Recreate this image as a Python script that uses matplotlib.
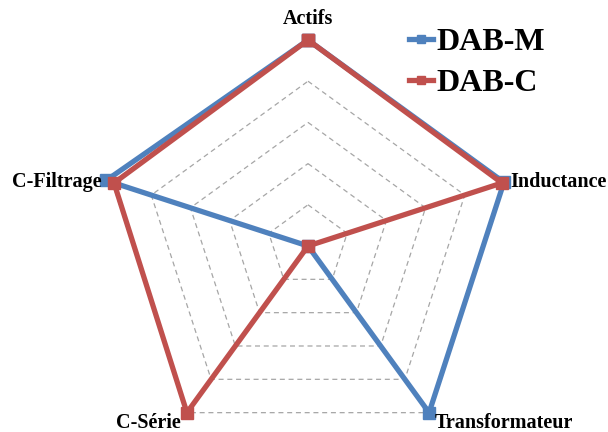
import numpy as np
import matplotlib
matplotlib.use("Agg")
import matplotlib.pyplot as plt
from matplotlib.lines import Line2D

categories = ["Actifs", "Inductance", "Transformateur", "C-Série", "C-Filtrage"]
dab_m = [1.0, 1.0, 1.0, 0.0, 1.03]
dab_c = [1.0, 0.99, 0.0, 1.0, 0.99]
levels = [0.2, 0.4, 0.6, 0.8, 1.0]

blue = "#4f81bd"
red = "#c0504d"
serif = ["Liberation Serif", "DejaVu Serif"]

W, H = 608, 432
fig = plt.figure(figsize=(W / 100, H / 100), dpi=100)
cx, cy, R = 308, 246, 206
ax = fig.add_axes([(cx - R) / W, (H - cy - R) / H, 2 * R / W, 2 * R / H], projection="polar")
ax.set_theta_offset(np.pi / 2)
ax.set_theta_direction(-1)
ax.set_ylim(0, 1.0)
ax.grid(False)
ax.spines["polar"].set_visible(False)
ax.set_xticks([])
ax.set_yticks([])
ax.patch.set_alpha(0)

n = len(categories)
theta = np.arange(n) * 2 * np.pi / n
tc = np.append(theta, theta[0])

for lv in levels:
    ax.plot(tc, [lv] * (n + 1), ls=(0, (4, 3)), color="#a6a6a6", lw=0.9, clip_on=False)

for vals, col in [(dab_m, blue), (dab_c, red)]:
    v = np.append(vals, vals[0])
    ax.plot(tc, v, color=col, lw=3.8, marker="s", markersize=8.5,
            markerfacecolor=col, markeredgecolor=col, clip_on=False, zorder=3,
            solid_joinstyle="miter")

offsets = [(0, 21, "center", "center"), (6, 0, "left", "center"),
           (6, -10, "left", "center"), (-6, -10, "right", "center"),
           (-10, 0, "right", "center")]
for t, lab, (dx, dy, ha, va) in zip(theta, categories, offsets):
    ax.annotate(lab, xy=(t, 1.0), xytext=(dx, dy), textcoords="offset pixels",
                ha=ha, va=va, fontsize=14.5, fontweight="bold", family=serif,
                annotation_clip=False)

handles = [Line2D([], [], color=blue, lw=3.8, marker="s", markersize=6),
           Line2D([], [], color=red, lw=3.8, marker="s", markersize=6)]
fig.legend(handles, ["DAB-M", "DAB-C"], loc="upper left",
           bbox_to_anchor=(393 / W, 1 - 12 / H), frameon=False,
           prop={"family": serif, "weight": "bold", "size": 23},
           handlelength=0.75, handletextpad=0.1, labelspacing=0.35, borderpad=0)

fig.savefig("out.png", dpi=100)
